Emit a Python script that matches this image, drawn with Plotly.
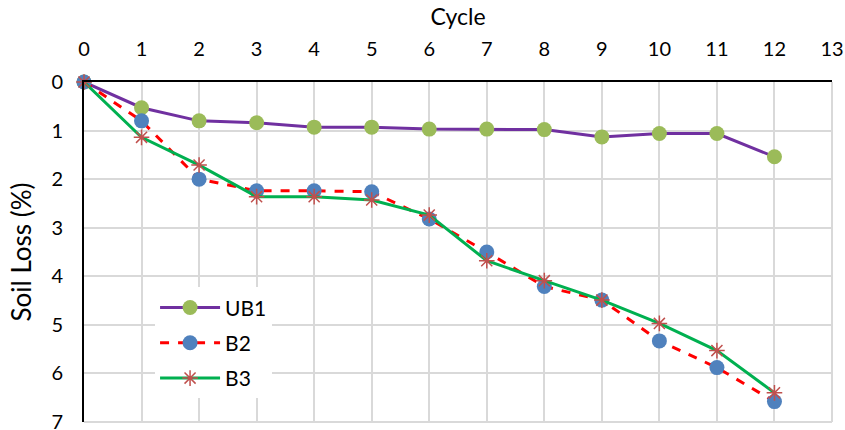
import plotly.graph_objects as go

cycles = [0, 1, 2, 3, 4, 5, 6, 7, 8, 9, 10, 11, 12]
ub1 = [0, 0.53, 0.80, 0.84, 0.93, 0.93, 0.97, 0.97, 0.98, 1.13, 1.06, 1.06, 1.54]
b2 = [0, 0.80, 2.00, 2.24, 2.24, 2.26, 2.82, 3.50, 4.21, 4.49, 5.33, 5.88, 6.58]
b3 = [0, 1.14, 1.71, 2.36, 2.36, 2.43, 2.74, 3.68, 4.09, 4.49, 4.97, 5.53, 6.40]

FONT = "Lato"
GRID = "#D9D9D9"

fig = go.Figure()
fig.add_trace(go.Scatter(
    x=cycles, y=ub1, name="UB1", mode="lines+markers", legendgroup="a",
    line=dict(color="#7030A0", width=3),
    marker=dict(color="#9BBB59", size=15),
    cliponaxis=False))
fig.add_trace(go.Scatter(
    x=cycles, y=b2, name="B2", mode="lines+markers", legendgroup="b",
    line=dict(color="#FF0000", width=3, dash="dash"),
    marker=dict(color="#4F81BD", size=15),
    cliponaxis=False))
fig.add_trace(go.Scatter(
    x=cycles, y=b3, name="B3", mode="lines+markers", legendgroup="c",
    line=dict(color="#00B050", width=3),
    marker=dict(symbol="asterisk-open", color="#C0504D", size=13,
                line=dict(color="#C0504D", width=1.5)),
    cliponaxis=False))

# right and bottom border gridlines (plotly drops gridlines at the range ends)
fig.add_shape(type="line", xref="paper", yref="paper", x0=1, x1=1, y0=0, y1=1,
              line=dict(color=GRID, width=2), layer="below")
fig.add_shape(type="line", xref="paper", yref="paper", x0=0, x1=1, y0=0, y1=0,
              line=dict(color=GRID, width=2), layer="below")

fig.update_layout(
    width=845, height=430,
    margin=dict(l=84, r=13, t=82, b=8),
    paper_bgcolor="white", plot_bgcolor="white",
    font=dict(family=FONT, size=20, color="black"),
    showlegend=True,
    legend=dict(x=0.095, y=0.396, xanchor="left", yanchor="top",
                bgcolor="white", font=dict(size=21, family=FONT),
                tracegroupgap=5, itemwidth=60),
    xaxis=dict(side="top", range=[0, 13], dtick=1, tick0=0,
               showgrid=True, gridcolor=GRID, gridwidth=2,
               showline=True, linecolor="black", linewidth=2,
               zeroline=False, ticks="", ticklabelstandoff=16,
               automargin=False,
               title=dict(text="Cycle", font=dict(size=23, family=FONT), standoff=4)),
    yaxis=dict(range=[7, 0], dtick=1, tick0=0,
               showgrid=True, gridcolor=GRID, gridwidth=2,
               showline=True, linecolor="black", linewidth=2,
               zeroline=False, ticks="", ticklabelstandoff=15,
               ticklabeloverflow="allow", automargin=False,
               title=dict(text="Soil Loss (%)", font=dict(size=26, family=FONT), standoff=12)),
)

fig.write_html("out.html")
